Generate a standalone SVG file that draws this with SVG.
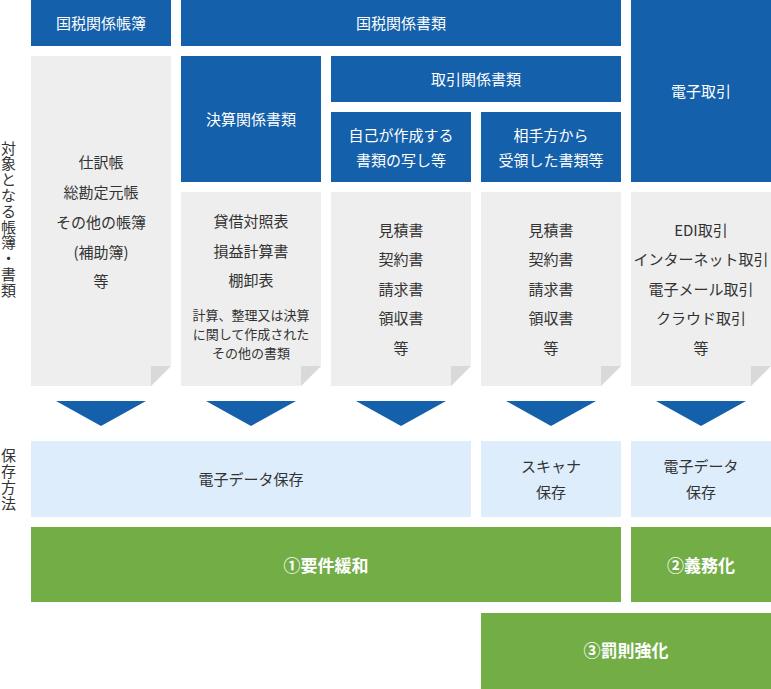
<svg xmlns="http://www.w3.org/2000/svg" width="771" height="689" viewBox="0 0 771 689">
<style>
text{font-family:"Noto Sans CJK JP","Noto Sans",sans-serif;text-anchor:middle}
.hd{fill:#1560aa}
.hdt{fill:#ffffff;font-size:15px}
.doc{fill:#eeeeee}
.fold{fill:#d9d9d9}
.bt{fill:#333333;font-size:15px}
.st{fill:#333333;font-size:13px}
.sv{fill:#deedfc}
.gr{fill:#72ad46}
.grt{fill:#ffffff;font-size:17px;font-weight:bold}
.arr{fill:#1560aa}
.lbl{fill:#333333;font-size:15px}
</style>
<rect width="771" height="689" fill="#ffffff"/>

<g id="labels">
<text class="lbl"><tspan x="8.5" y="153.5">対</tspan><tspan x="8.5" y="169.3">象</tspan><tspan x="8.5" y="185.1">と</tspan><tspan x="8.5" y="200.9">な</tspan><tspan x="8.5" y="216.7">る</tspan><tspan x="8.5" y="232.5">帳</tspan><tspan x="8.5" y="248.3">簿</tspan><tspan x="8.5" y="264.1">・</tspan><tspan x="8.5" y="279.9">書</tspan><tspan x="8.5" y="295.7">類</tspan></text>
<text class="lbl"><tspan x="8.5" y="460.5">保</tspan><tspan x="8.5" y="476.5">存</tspan><tspan x="8.5" y="492.5">方</tspan><tspan x="8.5" y="508.5">法</tspan></text>
</g>

<g id="hdr-books">
<rect class="hd" x="31" y="0" width="140" height="46"/>
<text class="hdt" x="101" y="28.5">国税関係帳簿</text>
</g>
<g id="hdr-docs">
<rect class="hd" x="181" y="0" width="440" height="46"/>
<text class="hdt" x="401" y="28.5">国税関係書類</text>
</g>
<g id="hdr-edi">
<rect class="hd" x="631" y="0" width="140" height="182"/>
<text class="hdt" x="701" y="96.5">電子取引</text>
</g>
<g id="hdr-settle">
<rect class="hd" x="181" y="56" width="140" height="126"/>
<text class="hdt" x="251" y="124.5">決算関係書類</text>
</g>
<g id="hdr-trade">
<rect class="hd" x="331" y="56" width="290" height="46"/>
<text class="hdt" x="476" y="84.5">取引関係書類</text>
</g>
<g id="hdr-own">
<rect class="hd" x="331" y="112" width="140" height="70"/>
<text class="hdt" x="401" y="140.5">自己が作成する</text>
<text class="hdt" x="401" y="165.5">書類の写し等</text>
</g>
<g id="hdr-recv">
<rect class="hd" x="481" y="112" width="140" height="70"/>
<text class="hdt" x="551" y="140.5">相手方から</text>
<text class="hdt" x="551" y="165.5">受領した書類等</text>
</g>

<g id="doc-books">
<polygon class="doc" points="31,56 171,56 171,366 151,386 31,386"/>
<polygon class="fold" points="151,366 171,366 151,386"/>
<text class="bt" x="101" y="167.5">仕訳帳</text>
<text class="bt" x="101" y="197.5">総勘定元帳</text>
<text class="bt" x="101" y="227.5">その他の帳簿</text>
<text class="bt" x="101" y="257.5">(補助簿)</text>
<text class="bt" x="101" y="286.5">等</text>
</g>
<g id="doc-settle">
<polygon class="doc" points="181,192 321,192 321,366 301,386 181,386"/>
<polygon class="fold" points="301,366 321,366 301,386"/>
<text class="bt" x="251" y="226.5">貸借対照表</text>
<text class="bt" x="251" y="256.5">損益計算書</text>
<text class="bt" x="251" y="285.5">棚卸表</text>
<text class="st" x="251" y="319.5">計算、整理又は決算</text>
<text class="st" x="251" y="338.5">に関して作成された</text>
<text class="st" x="251" y="357.5">その他の書類</text>
</g>
<g id="doc-own">
<polygon class="doc" points="331,192 471,192 471,366 451,386 331,386"/>
<polygon class="fold" points="451,366 471,366 451,386"/>
<text class="bt" x="401" y="235.5">見積書</text>
<text class="bt" x="401" y="264.5">契約書</text>
<text class="bt" x="401" y="294.5">請求書</text>
<text class="bt" x="401" y="323.5">領収書</text>
<text class="bt" x="401" y="353.5">等</text>
</g>
<g id="doc-recv">
<polygon class="doc" points="481,192 621,192 621,366 601,386 481,386"/>
<polygon class="fold" points="601,366 621,366 601,386"/>
<text class="bt" x="551" y="235.5">見積書</text>
<text class="bt" x="551" y="264.5">契約書</text>
<text class="bt" x="551" y="294.5">請求書</text>
<text class="bt" x="551" y="323.5">領収書</text>
<text class="bt" x="551" y="353.5">等</text>
</g>
<g id="doc-edi">
<polygon class="doc" points="631,192 771,192 771,366 751,386 631,386"/>
<polygon class="fold" points="751,366 771,366 751,386"/>
<text class="bt" x="701" y="235.5">EDI取引</text>
<text class="bt" x="701" y="264.5">インターネット取引</text>
<text class="bt" x="701" y="294.5">電子メール取引</text>
<text class="bt" x="701" y="323.5">クラウド取引</text>
<text class="bt" x="701" y="353.5">等</text>
</g>

<g id="connectors">
<polygon class="arr" points="56,401 146,401 101,426"/>
<polygon class="arr" points="206,401 296,401 251,426"/>
<polygon class="arr" points="356,401 446,401 401,426"/>
<polygon class="arr" points="506,401 596,401 551,426"/>
<polygon class="arr" points="656,401 746,401 701,426"/>
</g>

<g id="store-edata">
<rect class="sv" x="31" y="441" width="440" height="76"/>
<text class="bt" x="251" y="484.5">電子データ保存</text>
</g>
<g id="store-scan">
<rect class="sv" x="481" y="441" width="140" height="76"/>
<text class="bt" x="551" y="471.5">スキャナ</text>
<text class="bt" x="551" y="497.5">保存</text>
</g>
<g id="store-edi">
<rect class="sv" x="631" y="441" width="140" height="76"/>
<text class="bt" x="701" y="471.5">電子データ</text>
<text class="bt" x="701" y="497.5">保存</text>
</g>

<g id="relax">
<rect class="gr" x="31" y="527" width="590" height="75"/>
<text class="grt" x="326" y="572">①要件緩和</text>
</g>
<g id="mandate">
<rect class="gr" x="631" y="527" width="140" height="75"/>
<text class="grt" x="701" y="572">②義務化</text>
</g>
<g id="penalty">
<rect class="gr" x="481" y="613" width="290" height="76"/>
<text class="grt" x="626" y="657">③罰則強化</text>
</g>
</svg>
